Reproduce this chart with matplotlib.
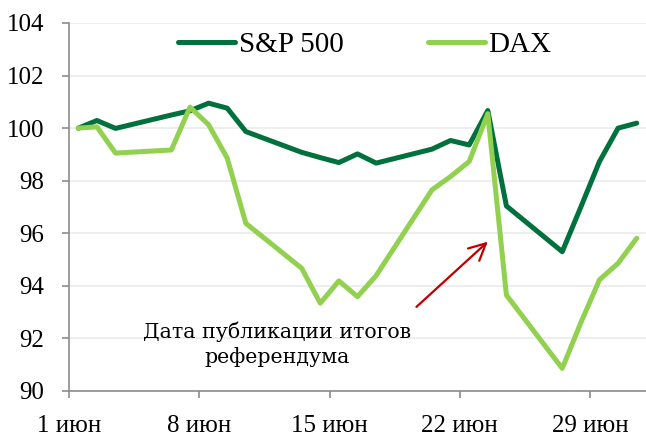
import numpy as np
import matplotlib
matplotlib.use('Agg')
import matplotlib.pyplot as plt
import matplotlib.dates as mdates

# trading days, 1 June - 1 July 2016
dates = ['2016-06-01', '2016-06-02', '2016-06-03', '2016-06-06', '2016-06-07',
         '2016-06-08', '2016-06-09', '2016-06-10', '2016-06-13', '2016-06-14',
         '2016-06-15', '2016-06-16', '2016-06-17', '2016-06-20', '2016-06-21',
         '2016-06-22', '2016-06-23', '2016-06-24', '2016-06-27', '2016-06-28',
         '2016-06-29', '2016-06-30', '2016-07-01']
sp500 = [100.0, 100.29, 99.99, 100.5, 100.66, 100.95, 100.76, 99.87, 99.08,
         98.88, 98.69, 99.02, 98.67, 99.2, 99.53, 99.36, 100.67, 97.04, 95.3,
         97.0, 98.73, 100.0, 100.19]
dax = [100.0, 100.05, 99.05, 99.17, 100.8, 100.13, 98.86, 96.38, 94.67, 93.34,
       94.19, 93.59, 94.39, 97.65, 98.16, 98.73, 100.55, 93.65, 90.86, 92.6,
       94.23, 94.86, 95.81]
tick_dates = ['2016-06-01', '2016-06-08', '2016-06-15', '2016-06-22', '2016-06-29']
tick_labels = ['1 июн', '8 июн', '15 июн', '22 июн', '29 июн']

note_text = 'Дата публикации итогов\nреферендума'


def to_num(d):
    return mdates.date2num(np.datetime64(d, 's').astype(object))


# points sit in the middle of each day, like Excel date axis
x = [to_num(d) + 0.5 for d in dates]
ticks = [to_num(d) for d in tick_dates]

plt.rcParams['font.family'] = ['Liberation Serif', 'DejaVu Serif']

fig = plt.figure(figsize=(6.46, 4.34), dpi=100)
ax = fig.add_axes([69 / 646, 43 / 434, 577 / 646, 368 / 434])

ax.plot(x, sp500, color='#00703C', lw=3.6, label='S&P 500',
        solid_capstyle='round', solid_joinstyle='round', zorder=3)
ax.plot(x, dax, color='#92D050', lw=3.6, label='DAX',
        solid_capstyle='round', solid_joinstyle='round', zorder=3)

ax.set_ylim(90, 104)
ax.set_yticks(np.arange(90, 105, 2))
ax.set_xlim(ticks[0], ticks[0] + 31)
ax.set_xticks(ticks)
ax.set_xticklabels(tick_labels)

ax.grid(axis='y', color='#EBEBEB', lw=1.2, zorder=0)
for s in ['top', 'right']:
    ax.spines[s].set_visible(False)
for s in ['left', 'bottom']:
    ax.spines[s].set_color('#8C8C8C')
    ax.spines[s].set_linewidth(1.2)
ax.tick_params(axis='y', length=5, width=1.2, color='#8C8C8C', pad=13,
               labelsize=18)
ax.tick_params(axis='x', length=5, width=1.2, color='#8C8C8C', pad=12,
               labelsize=18)

leg = ax.legend(loc='center', bbox_to_anchor=((365 - 69) / 577, (391 - 45) / 368),
                ncol=2, frameon=False, fontsize=21, handlelength=1.95,
                handletextpad=0.12, columnspacing=2.9)

# annotation with red arrow
ax.text(to_num('2016-06-12T04:00'), 91.78, note_text, ha='center',
        va='center', fontsize=14.8, family=['DejaVu Serif'], linespacing=1.3)
arrow_tail = ('2016-06-19T16:00', 93.2)
arrow_head = ('2016-06-23T12:00', 95.68)
ax.annotate('', xy=(to_num(arrow_head[0]), arrow_head[1]),
            xytext=(to_num(arrow_tail[0]), arrow_tail[1]),
            arrowprops=dict(arrowstyle='->', color='#C00000', lw=1.6,
                            mutation_scale=30, shrinkA=0, shrinkB=0))

fig.savefig('out.png', dpi=100)
